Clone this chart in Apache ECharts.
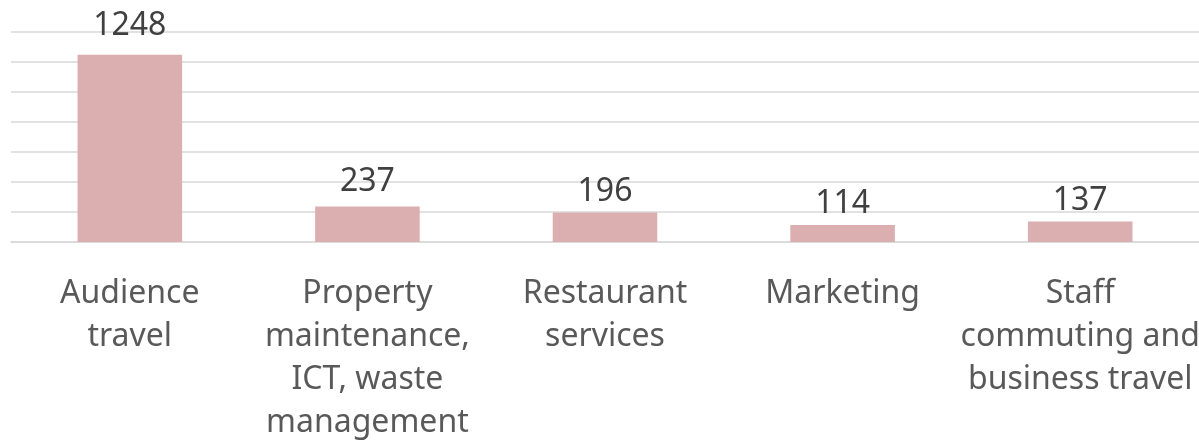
<!DOCTYPE html>
<html>
<head>
<meta charset="utf-8">
<script src="https://cdn.jsdelivr.net/npm/echarts@6/dist/echarts.min.js"></script>
<style>
  html, body { margin: 0; padding: 0; background: #fff; }
  #myChart { width: 1199px; height: 440px; }
</style>
</head>
<body>
<div id="myChart"></div>
<script>
// 类别 / 数值
const categories = [
  'Audience\ntravel',
  'Property\nmaintenance,\nICT, waste\nmanagement',
  'Restaurant\nservices',
  'Marketing',
  'Staff\ncommuting and\nbusiness travel'
];
const values = [1248, 237, 196, 114, 137];

// 数据标签离柱顶的距离（仿照原图的位置）
const labelDistance = [13, 9, 5, 5, 5];

const myChart = echarts.init(document.getElementById('myChart'));

const option = {
  animation: false,
  textStyle: { fontFamily: 'Noto Sans' },
  grid: { left: 11, right: 0, top: 32, bottom: 198, outerBoundsMode: 'none' },
  xAxis: {
    type: 'category',
    data: categories,
    axisTick: { show: false },
    axisLine: { lineStyle: { color: '#d9d9d9', width: 1.5 } },
    axisLabel: {
      interval: 0,
      margin: 30,
      fontSize: 32,
      lineHeight: 43,
      color: '#595959'
    }
  },
  yAxis: {
    type: 'value',
    min: 0,
    max: 1400,
    interval: 200,
    axisLabel: { show: false },
    axisLine: { show: false },
    axisTick: { show: false },
    splitLine: { lineStyle: { color: '#d9d9d9', width: 1.5 } }
  },
  series: [
    {
      type: 'bar',
      data: values.map((v, i) => ({ value: v, label: { distance: labelDistance[i] } })),
      barWidth: '44%',
      itemStyle: { color: '#dbaeaf' },
      label: {
        show: true,
        position: 'top',
        fontSize: 32,
        color: '#404040'
      }
    }
  ]
};

myChart.setOption(option);
</script>
</body>
</html>
